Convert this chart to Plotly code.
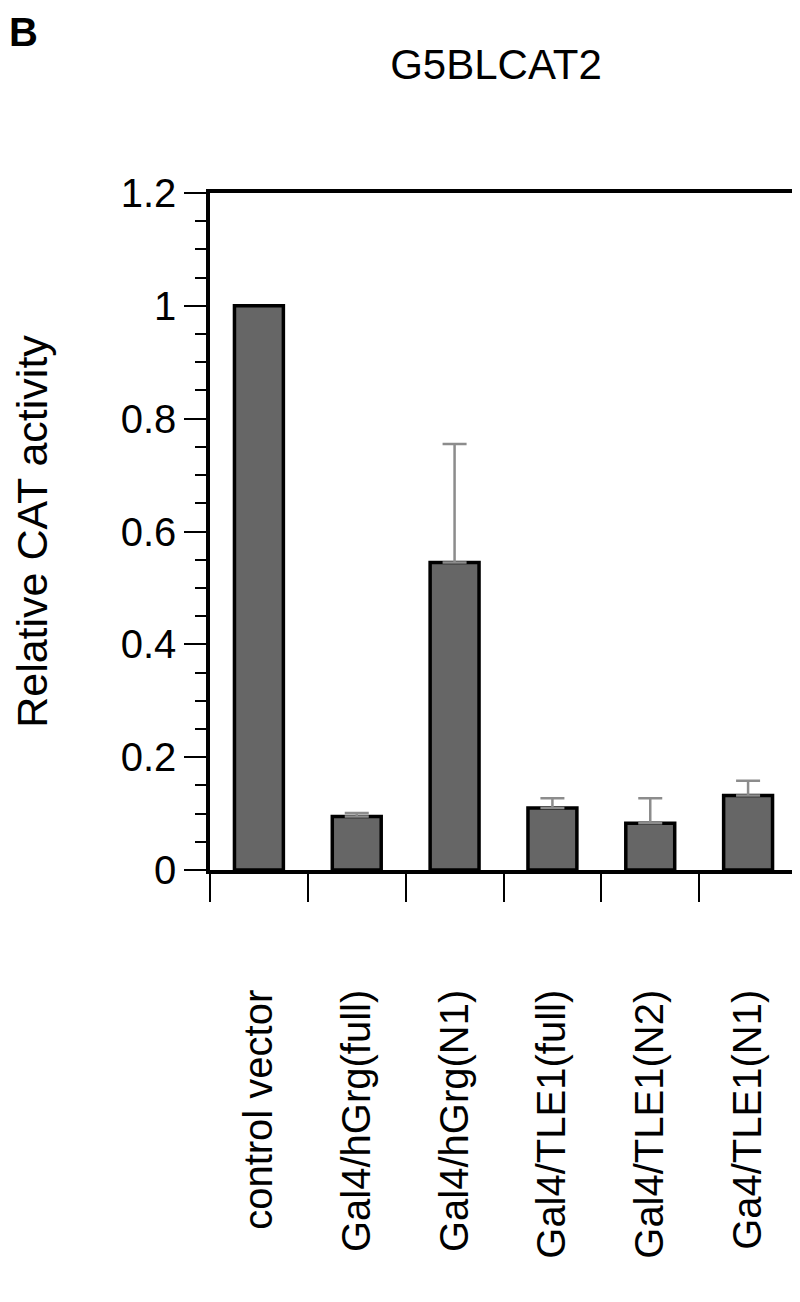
import plotly.graph_objects as go

categories = ["control vector", "Gal4/hGrg(full)", "Gal4/hGrg(N1)",
              "Gal4/TLE1(full)", "Gal4/TLE1(N2)", "Ga4/TLE1(N1)"]
values = [1.0, 0.095, 0.545, 0.11, 0.083, 0.132]
# upward error bars (control vector has none)
err_categories = categories[1:]
err_values = values[1:]
err_plus = [0.006, 0.21, 0.017, 0.044, 0.026]
err_minus = [0, 0, 0, 0, 0]
ytick_vals = [0, 0.2, 0.4, 0.6, 0.8, 1.0, 1.2]
ytick_text = ["0", "0.2", "0.4", "0.6", "0.8", "1", "1.2"]

FONT = "Liberation Sans, Arial, Helvetica, sans-serif"

fig = go.Figure()
fig.add_trace(go.Bar(
    x=categories, y=values, width=0.5,
    marker=dict(color="#666666", line=dict(color="black", width=3.5)),
))
fig.add_trace(go.Scatter(
    x=err_categories, y=err_values, mode="markers",
    marker=dict(size=1, color="rgba(0,0,0,0)"),
    error_y=dict(type="data", symmetric=False, array=err_plus, arrayminus=err_minus,
                 color="#8c8c8c", thickness=2.5, width=12),
    hoverinfo="skip",
))

fig.update_layout(
    width=800, height=1302,
    margin=dict(l=202, r=11, t=185, b=440, autoexpand=False),
    paper_bgcolor="white", plot_bgcolor="white",
    showlegend=False,
    font=dict(family=FONT, color="black"),
    title=dict(text="G5BLCAT2", x=0.61, xanchor="center", xref="container",
               y=1 - 56 / 1302, yanchor="middle", yref="container",
               font=dict(size=42, family=FONT, color="black")),
)

fig.update_xaxes(
    type="category", range=[-0.5, 5.5], automargin=False,
    showline=True, linecolor="black", linewidth=3.5, mirror=True,
    ticks="outside", tickson="boundaries", ticklen=28, tickwidth=2, tickcolor="black",
    tickangle=-90, tickfont=dict(size=40, family=FONT, color="black"),
    ticklabelstandoff=100, showgrid=False,
)
fig.update_yaxes(
    range=[0, 1.2], tickvals=ytick_vals, ticktext=ytick_text, automargin=False,
    showline=True, linecolor="black", linewidth=3.5, mirror=True,
    ticks="outside", ticklen=22, tickwidth=2, tickcolor="black",
    tickfont=dict(size=40, family=FONT, color="black"),
    minor=dict(dtick=0.05, ticks="outside", ticklen=11, tickwidth=2, tickcolor="black"),
    showgrid=False, zeroline=False,
    title=dict(text="Relative CAT activity", standoff=64,
               font=dict(size=43, family=FONT, color="black")),
)

fig.add_annotation(text="<b>B</b>", xref="paper", yref="paper", x=-0.345, y=185 / 677 + 1,
                   xanchor="left", yanchor="top", showarrow=False,
                   font=dict(size=40, family=FONT, color="black"))

fig.write_html("out.html")
